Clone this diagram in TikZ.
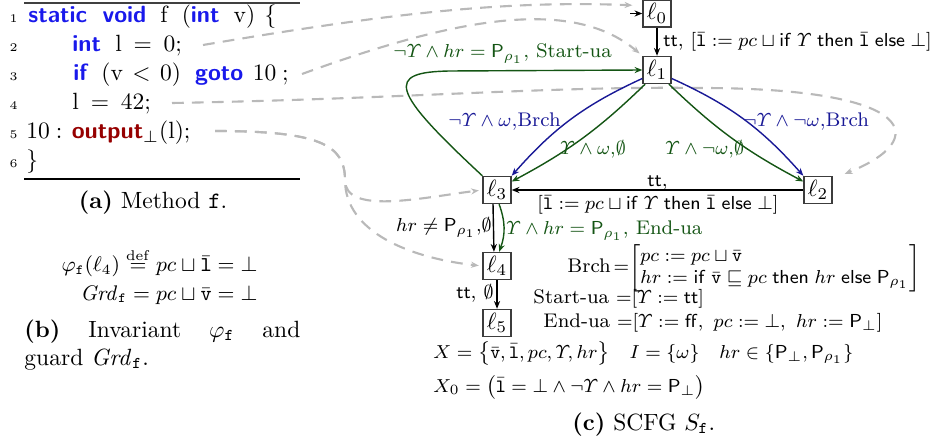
\documentclass[tikz,border=0pt]{standalone}
\usepackage{amsmath,amssymb}
\usetikzlibrary{arrows.meta,calc}
\definecolor{kwblue}{RGB}{25,25,235}
\definecolor{outred}{RGB}{150,0,0}
\definecolor{eblue}{RGB}{25,25,150}
\definecolor{egreen}{RGB}{20,85,20}
\definecolor{dgray}{RGB}{185,185,185}
\definecolor{boxgray}{RGB}{60,60,60}
\newcommand{\kw}[1]{\textcolor{kwblue}{\sffamily\bfseries #1}}
\newcommand{\lb}{\bar{\mathtt{l}}}
\newcommand{\vb}{\bar{\mathtt{v}}}
\newcommand{\Ups}{\varUpsilon}
\newcommand{\asg}{\mathrel{:=}}
\begin{document}
\begin{tikzpicture}[x=0.4255pt,y=0.4255pt,>={Stealth[length=3.3pt,width=2.6pt]},
 lbox/.style={draw=boxgray,line width=0.6pt,minimum width=11.9pt,minimum height=11.5pt,inner sep=0.5pt,fill=white,font=\fontsize{10}{12}\selectfont},
 dtxt/.style={inner sep=0pt,font=\fontsize{8.4}{10}\selectfont},
 code/.style={inner sep=0pt,anchor=base west,font=\fontsize{10}{12}\selectfont},
 lnum/.style={inner sep=0pt,anchor=base east,font=\tiny},
 dsh/.style={draw=dgray,line width=0.9pt,dash pattern=on 5pt off 3.5pt,->},
 ebl/.style={draw=eblue,line width=0.6pt,->},
 egr/.style={draw=egreen,line width=0.6pt,->},
 ebk/.style={draw=black,line width=0.6pt,->}]
\useasboundingbox (0,0) rectangle (933,-445);

% ---------- (a) code listing ----------
\draw[line width=0.8pt,draw=black!75] (24,-3) -- (300,-3);
\draw[line width=0.5pt] (24,-179) -- (300,-179);
\node[lnum] (n1) at (18,-23) {1};
\node[lnum] (n2) at (18,-52) {2};
\node[lnum] (n3) at (18,-81) {3};
\node[lnum] (n4) at (18,-110) {4};
\node[lnum] (n5) at (18,-139) {5};
\node[lnum] (n6) at (18,-168) {6};
\node[code] (c1) at (28,-23) {\kw{static}\hspace{6.5pt}\kw{void}\hspace{6pt}f\hspace{6pt}(\kw{int}\hspace{6pt}v)\hspace{4pt}\{};
\node[code] (c2) at (72,-52) {\kw{int}\hspace{6pt}l\hspace{5pt}$=$\hspace{5pt}0;};
\node[code] (c3) at (73,-81) {\kw{if}\hspace{6pt}(v\hspace{4pt}$<$\hspace{4pt}0)\hspace{6pt}\kw{goto}\hspace{4pt}10\hspace{2.5pt};};
\node[code] (c4) at (72,-110) {l\hspace{5pt}$=$\hspace{5pt}42;};
\node[code] (c5) at (26,-139) {10\hspace{2.5pt}:\hspace{4pt}\textcolor{outred}{\sffamily\bfseries output}$_\bot$(l);};
\node[code] (c6) at (26,-168) {\}};
\node[anchor=base,inner sep=0pt] (capa) at (153,-209) {\textbf{(a)} Method \texttt{f}.};

% ---------- (b) ----------
\node[anchor=base east,inner sep=0pt,font=\fontsize{8.6}{10}\selectfont] (eq1) at (258,-272) {$\varphi_{\mathtt{f}}(\ell_4)\stackrel{\mathrm{def}}{=}pc\sqcup\lb=\bot$};
\node[anchor=base east,inner sep=0pt,font=\fontsize{8.6}{10}\selectfont] (eq2) at (258,-300) {$\mathit{Grd}_{\mathtt{f}}=pc\sqcup\vb=\bot$};
\node[anchor=base west,inner sep=0pt] (capb) at (24,-337) {\parbox[t]{117.4pt}{\textbf{(b)} Invariant $\varphi_{\mathtt{f}}$ and\linebreak guard $\mathit{Grd}_{\mathtt{f}}$.}};

% ---------- (c) nodes ----------
\node[lbox] (l0) at (657,-13.5) {$\ell_0$};
\node[lbox] (l1) at (657,-70) {$\ell_1$};
\node[lbox] (l2) at (818,-190) {$\ell_2$};
\node[lbox] (l3) at (497,-190) {$\ell_3$};
\node[lbox] (l4) at (497,-266) {$\ell_4$};
\node[lbox] (l5) at (497,-323) {$\ell_5$};

\coordinate (init) at (630,-13.5);
\coordinate (s2) at (203,-45);
\coordinate (s3) at (302,-74);
\coordinate (s4) at (172,-103);
\coordinate (s5) at (215,-131);
\coordinate (g0) at ($(l0.north west)+(-10,-6)$);
\coordinate (g2) at ($(l2.north east)+(12,2)$);

% gray dashed links
\draw[dsh] (s2) .. controls (380,-15) and (500,0) .. (g0);
\draw[dsh,shorten >=1.5pt] (s3) .. controls (450,-20) and (570,5) .. (l1.north west);
\draw[dsh] (s4) .. controls (400,-99) and (550,-86) .. (700,-88) .. controls (920,-88) and (930,-140) .. (g2);
\draw[dsh,shorten >=1.5pt] (s5) .. controls (320,-131) and (345,-145) .. (345,-180) .. controls (345,-215) and (420,-198) .. (l3.west);
\draw[dsh,shorten >=1.5pt] (s5) .. controls (320,-131) and (345,-145) .. (345,-180) .. controls (345,-232) and (410,-258) .. (l4.west);

% edges
\draw[ebk] (init) -- (l0);
\draw[ebk] (l0) -- (l1);
\draw[egr] (l3.north west) .. controls (390,-90) and (385,-72) .. (450,-71) -- (l1.west);
\draw[ebl] (l1.210) to[bend right=12] (l3.north east);
\draw[egr] (l1.-130) to[bend left=8] (l3.30);
\draw[ebl] (l1.-30) to[bend left=12] (l2.north west);
\draw[egr] (l1.-50) to[bend right=8] (l2.150);
\draw[ebk] (l2) -- (l3);
\draw[ebk] ([xshift=-1.7pt]l3.south) -- ([xshift=-1.3pt]l4.north);
\draw[egr] ([xshift=0.9pt]l3.south) to[bend left=20] ([xshift=0.9pt]l4.north);
\draw[ebk] (l4) -- (l5);

% edge labels
\node[dtxt,anchor=base west,text=egreen] (t31) at (393,-58) {$\neg\Ups\wedge hr=\mathsf{P}_{\rho_1}$, Start-ua};
\node[dtxt,anchor=base west] (t01) at (663,-47) {$\mathsf{tt}$, $[\lb\asg pc\sqcup\mathsf{if}\;\Ups\;\mathsf{then}\;\lb\;\mathsf{else}\;\bot]$};
\node[dtxt,anchor=base west,text=eblue] (t13b) at (448,-127) {$\neg\Ups\wedge\omega$,Brch};
\node[dtxt,anchor=base west,text=egreen] (t13g) at (560,-155) {$\Ups\wedge\omega{,}\emptyset$};
\node[dtxt,anchor=base west,text=eblue] (t12b) at (743,-127) {$\neg\Ups\wedge\neg\omega$,Brch};
\node[dtxt,anchor=base west,text=egreen] (t12g) at (665,-155) {$\Ups\wedge\neg\omega{,}\emptyset$};
\node[dtxt,anchor=base west] (t23a) at (647,-187) {$\mathsf{tt}$,};
\node[dtxt,anchor=base west] (t23b) at (537,-210) {$[\lb\asg pc\sqcup\mathsf{if}\;\Ups\;\mathsf{then}\;\lb\;\mathsf{else}\;\bot]$};
\node[dtxt,anchor=base east] (t34k) at (492,-232) {$hr\neq\mathsf{P}_{\rho_1}{,}\emptyset$};
\node[dtxt,anchor=base west,text=egreen] (t34g) at (506,-235) {$\Ups\wedge hr=\mathsf{P}_{\rho_1}$, End-ua};
\node[dtxt,anchor=base east] (t45) at (494,-298) {$\mathsf{tt}$, $\emptyset$};

% definitions
\node[dtxt,anchor=west] (brch) at (567,-268) {Brch\hspace{1.2pt}${=}\!\left[\renewcommand{\arraystretch}{0.95}\begin{array}{@{}l@{}}pc\asg pc\sqcup\vb\\ hr\asg\mathsf{if}\;\vb\sqsubseteq pc\;\mathsf{then}\;hr\;\mathsf{else}\;\mathsf{P}_{\rho_1}\end{array}\right]$};
\node[dtxt,anchor=base west] (stua) at (533,-304) {Start-ua $=$$[\Ups\asg\mathsf{tt}]$};
\node[dtxt,anchor=base west] (enua) at (543,-327) {End-ua $=$$[\Ups\asg\mathsf{ff},\ pc\asg\bot,\ hr\asg\mathsf{P}_\bot]$};
\node[dtxt,anchor=base west] (xset) at (433,-358) {$X=\bigl\{\vb,\lb,pc,\Ups,hr\bigr\}\quad I=\{\omega\}\quad hr\in\{\mathsf{P}_\bot,\mathsf{P}_{\rho_1}\}$};
\node[dtxt,anchor=base west] (xzero) at (433,-392) {$X_0=\bigl(\lb=\bot\wedge\neg\Ups\wedge hr=\mathsf{P}_\bot\bigr)$};
\node[anchor=base west,inner sep=0pt] (capc) at (572,-430) {\textbf{(c)} SCFG $S_{\mathtt{f}}$.};
\end{tikzpicture}
\end{document}
